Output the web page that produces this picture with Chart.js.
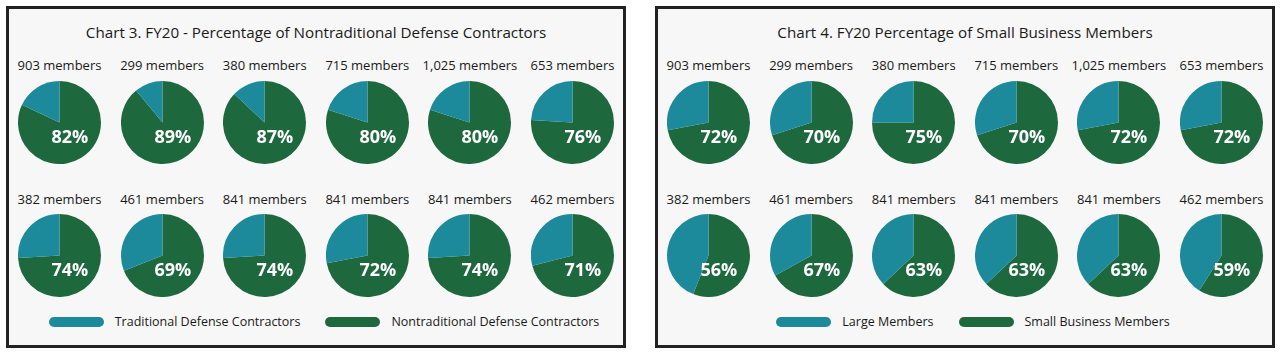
<!DOCTYPE html>
<html>
<head>
<meta charset="utf-8">
<script src="https://cdn.jsdelivr.net/npm/chart.js@4/dist/chart.umd.min.js"></script>
<style>
    body { margin: 0; background: #ffffff; font-family: "Open Sans", sans-serif; color: #1a1a1a; }
    .panel { position: absolute; top: 6px; width: 620px; height: 342px; box-sizing: border-box;
             border: 3px solid #222; background: #f7f7f7; }
    .title { position: absolute; left: 0; right: 0; top: 13px; text-align: center; font-size: 15.2px; }
    .members { position: absolute; width: 102px; margin-left: -51px; text-align: center; font-size: 13px; }
    .pie { position: absolute; }
    .legend { position: absolute; left: 16px; right: 0; top: 304px; display: flex; justify-content: center;
              align-items: center; font-size: 12.5px; gap: 25px; }
    .legend span.item { display: flex; align-items: center; gap: 11px; }
    .legend span.sw { display: inline-block; width: 55px; height: 10px; border-radius: 5px; }
</style>
</head>
<body>
<div id="panel3" class="panel" style="left:6px"></div>
<div id="panel4" class="panel" style="left:655px"></div>
<script>
// Data
const memberCounts = ['903', '299', '380', '715', '1,025', '653', '382', '461', '841', '841', '841', '462'];
const nontraditionalPct = [82, 89, 87, 80, 80, 76, 74, 69, 74, 72, 74, 71];
const smallBusinessPct = [72, 70, 75, 70, 72, 72, 56, 67, 63, 63, 63, 59];

const TEAL = '#1c8a9b';
const GREEN = '#1e683d';

// draws the white percentage inside each pie, a bit below/right of the centre
const pctLabel = {
    id: 'pctLabel',
    afterDatasetsDraw(chart) {
        const arc = chart.getDatasetMeta(0).data[0];
        if (!arc) return;
        const r = arc.outerRadius;
        const ctx = chart.ctx;
        ctx.save();
        ctx.fillStyle = '#ffffff';
        ctx.font = 'bold 18px "Open Sans", sans-serif';
        ctx.textAlign = 'center';
        ctx.textBaseline = 'middle';
        ctx.fillText(chart.data.datasets[0].data[0] + '%', arc.x + r * 0.25, arc.y + r * 0.38);
        ctx.restore();
    }
};

function buildPanel(panelId, title, values, mainLabel, otherLabel) {
    const panel = document.getElementById(panelId);
    let html = `<div class="title">${title}</div>`;
    const size = 83;
    values.forEach((v, i) => {
        const col = i % 6;
        const row = Math.floor(i / 6);
        const cx = 50.5 + col * 102.6;
        const cy = row === 0 ? 113 : 246;
        const ly = row === 0 ? 47 : 181;
        html += `<div class="members" style="left:${cx}px; top:${ly}px">${memberCounts[i]} members</div>`;
        html += `<canvas class="pie" id="${panelId}-pie${i}" width="${size}" height="${size}"
                  style="left:${cx - size / 2}px; top:${cy - size / 2}px"></canvas>`;
    });
    html += `<div class="legend">
        <span class="item"><span class="sw" style="background:${TEAL}"></span>${otherLabel}</span>
        <span class="item"><span class="sw" style="background:${GREEN}"></span>${mainLabel}</span>
    </div>`;
    panel.innerHTML = html;

    values.forEach((v, i) => {
        new Chart(document.getElementById(`${panelId}-pie${i}`), {
            type: 'pie',
            data: {
                labels: [mainLabel, otherLabel],
                datasets: [{
                    data: [v, 100 - v],
                    backgroundColor: [GREEN, TEAL],
                    borderWidth: 0
                }]
            },
            options: {
                responsive: false,
                animation: false,
                events: [],
                plugins: { legend: { display: false }, tooltip: { enabled: false } }
            },
            plugins: [pctLabel]
        });
    });
}

buildPanel('panel3', 'Chart 3. FY20 - Percentage of Nontraditional Defense Contractors',
    nontraditionalPct, 'Nontraditional Defense Contractors', 'Traditional Defense Contractors');
buildPanel('panel4', 'Chart 4. FY20 Percentage of Small Business Members',
    smallBusinessPct, 'Small Business Members', 'Large Members');
</script>
</body>
</html>
